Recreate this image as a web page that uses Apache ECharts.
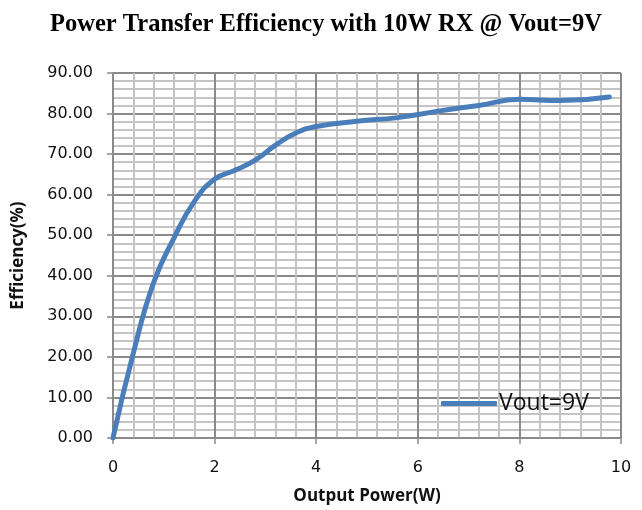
<!DOCTYPE html>
<html>
<head>
<meta charset="utf-8">
<script src="https://cdn.jsdelivr.net/npm/echarts@6/dist/echarts.min.js"></script>
<style>html,body{margin:0;padding:0;background:#fff}#c{width:642px;height:510px}</style>
</head>
<body>
<div id="c"></div>
<script>
const titleText = 'Power Transfer Efficiency with 10W RX @ Vout=9V';
const xName = 'Output Power(W)';
const yName = 'Efficiency(%)';
const seriesName = 'Vout=9V';
const outputPower = [0, 0.4, 0.8, 1.2, 1.6, 2.0, 2.4, 2.8, 3.2, 3.6, 4.0, 4.8, 5.6, 6.4, 7.2, 8.0, 8.8, 9.77];
const efficiency = [0, 20.9, 38.3, 49.3, 58.3, 63.8, 66.0, 68.5, 72.2, 75.2, 76.8, 78.1, 79.0, 80.6, 82.0, 83.5, 83.2, 84.1];

const data = outputPower.map((p, i) => [p, efficiency[i]]);
const chart = echarts.init(document.getElementById('c'), null, {renderer: 'canvas'});
const major = '#8a8a8a', minor = '#c4c4c4';
const labelFont = {fontFamily: 'DejaVu Sans', fontSize: 16, color: '#111'};
const nameFont = {fontFamily: 'Open Sans', fontWeight: 'bold', fontSize: 17, color: '#111'};
chart.setOption({
  animation: false,
  backgroundColor: '#fff',
  title: {
    text: titleText, left: 50, top: 12, padding: 0,
    textStyle: {fontFamily: 'Liberation Serif', fontWeight: 'bold', fontSize: 24.5, color: '#000'}
  },
  grid: {left: 113, right: 21, top: 73, bottom: 72, containLabel: false, outerBoundsMode: 'none'},
  legend: {
    left: 441, top: 392, padding: 0, icon: 'roundRect', itemWidth: 56, itemHeight: 5, itemGap: 0,
    textStyle: {fontFamily: 'Open Sans', fontSize: 23, color: '#111', padding: [0,0,0,-3]},
    data: [seriesName]
  },
  xAxis: {
    type: 'value', min: 0, max: 10, interval: 2,
    name: xName, nameLocation: 'middle', nameGap: 50,
    nameTextStyle: nameFont,
    axisLine: {show: true, lineStyle: {color: major, width: 1.5}},
    axisTick: {show: true, length: 6, lineStyle: {color: major, width: 1.5}},
    axisLabel: Object.assign({margin: 22}, labelFont),
    splitLine: {show: true, lineStyle: {color: major, width: 2}},
    minorTick: {show: false, splitNumber: 5},
    minorSplitLine: {show: true, lineStyle: {color: minor, width: 2}}
  },
  yAxis: {
    type: 'value', min: 0, max: 90, interval: 10,
    name: yName, nameLocation: 'middle', nameGap: 86, nameRotate: 90,
    nameTextStyle: nameFont,
    axisLine: {show: true, lineStyle: {color: major, width: 1.5}},
    axisTick: {show: true, length: 6, lineStyle: {color: major, width: 1.5}},
    axisLabel: Object.assign({margin: 20, formatter: v => v.toFixed(2)}, labelFont),
    splitLine: {show: true, lineStyle: {color: major, width: 2}},
    minorTick: {show: false, splitNumber: 5},
    minorSplitLine: {show: true, lineStyle: {color: minor, width: 2}}
  },
  series: [{
    name: seriesName, type: 'line', data: data, smooth: 0.5, symbol: 'none',
    lineStyle: {color: '#4a7ebb', width: 5, cap: 'round'},
    itemStyle: {color: '#4a7ebb'}
  }]
});
</script>
</body>
</html>
